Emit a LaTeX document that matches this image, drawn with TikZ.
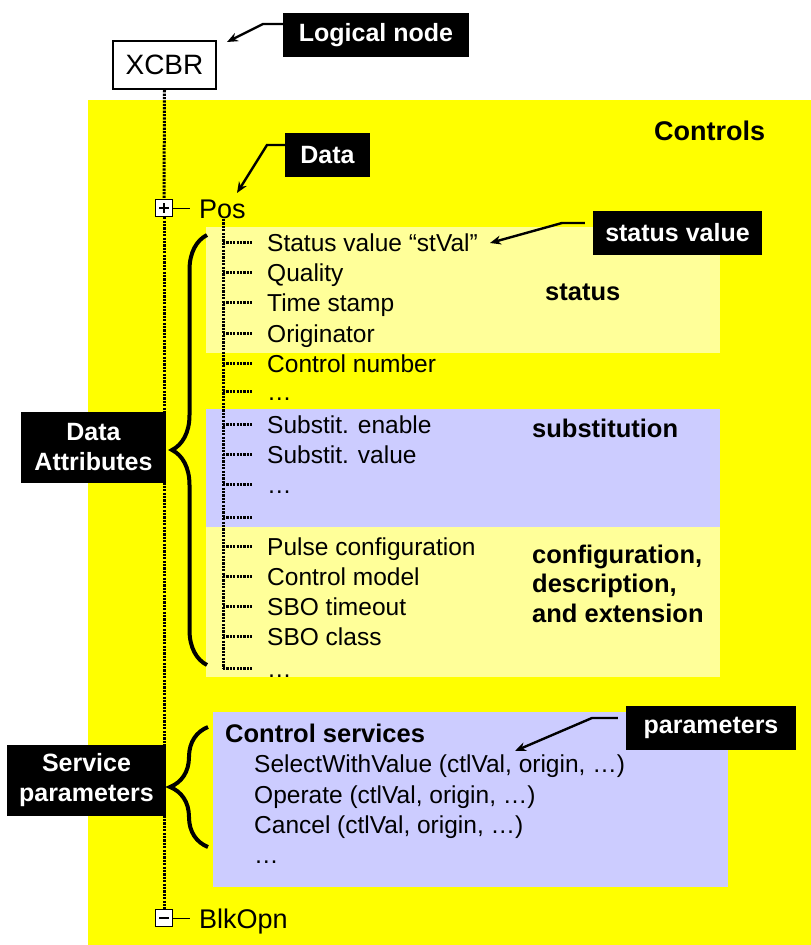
\documentclass[tikz,border=0pt]{standalone}
\usepackage{fontspec}
\setmainfont{Liberation Sans}
\usetikzlibrary{decorations.pathreplacing,arrows.meta}
\newcommand\myfs[1]{\fontsize{#1}{#1}\selectfont}
\definecolor{bgyellow}{RGB}{255,255,0}
\definecolor{paleyellow}{RGB}{255,255,153}
\definecolor{lavendr}{RGB}{204,204,255}
\begin{document}
\begin{tikzpicture}[x=1pt,y=-1pt,
  lbl/.style={fill=black,text=white,font=\fontsize{25}{30}\selectfont\bfseries,inner sep=0pt,align=center},
  item/.style={anchor=base west,inner sep=0pt,font=\myfs{24.5}},
  hdr/.style={anchor=base west,inner sep=0pt,font=\myfs{25.5}\bfseries},
  dotl/.style={line width=3pt,dash pattern=on 2.2pt off 1.2pt},
  arr/.style={line width=2.4pt,-{Stealth[length=11pt,width=9pt]}},
  brc/.style={line width=4pt,decorate,decoration={brace,amplitude=#1}},
  tbox/.style={draw,fill=white,line width=1.2pt,minimum size=17pt,inner sep=0pt},
]
\useasboundingbox (0,0) rectangle (811,945);
% backgrounds
\fill[white] (0,0) rectangle (811,945);
\fill[bgyellow] (88,100) rectangle (811,945);
\fill[paleyellow] (206,227) rectangle (720,353);
\fill[lavendr] (206,409) rectangle (720,527);
\fill[paleyellow] (206,527) rectangle (720,677);
\fill[lavendr] (213,712) rectangle (728,887);

% logical node
\node[draw,line width=2.4pt,minimum width=103pt,minimum height=48pt,inner sep=0pt,font=\myfs{28}] (xcbr) at (164.5,65) {XCBR};

% labels
\node[lbl,minimum width=186pt,minimum height=44pt] (lnode) at (376,35) {Logical node};
\node[lbl,minimum width=85pt,minimum height=44pt] (ldata) at (327.5,155) {Data};
\node[lbl,minimum width=169pt,minimum height=44pt] (lstat) at (677.5,233) {status value};
\node[lbl,minimum width=170pt,minimum height=44pt] (lpar) at (711,728) {parameters};
\node[lbl,minimum width=145pt,minimum height=71pt] (lda) at (93.5,447) {Data\\Attributes};
\node[lbl,minimum width=159pt,minimum height=71pt] (lsp) at (86.5,780) {Service\\parameters};

% headings
\node[hdr,font=\myfs{27}\bfseries] (controls) at (654,140) {Controls};
\node[hdr] (status) at (545,300) {status};
\node[hdr] (subst) at (532,437) {substitution};
\node[hdr] (cfg1) at (532,563) {configuration,};
\node[hdr] (cfg2) at (532,592) {description,};
\node[hdr] (cfg3) at (532,622) {and extension};

% tree boxes
\node[tbox] (posbox) at (164,208) {};
\node[tbox] (blkbox) at (164,918) {};
\draw[dotl] (xcbr.south) -- (posbox.north);
\draw[dotl] (posbox.south) -- (blkbox.north);
\draw[line width=2.2pt] (159,208) -- (169,208) (164,203) -- (164,213);
\draw[line width=2.8pt] (159,918) -- (169,918);
\coordinate (posend) at (190,208);
\coordinate (blkend) at (190,918);
\draw[line width=1pt] (posbox.east) -- (posend);
\draw[line width=1pt] (blkbox.east) -- (blkend);
\node[anchor=base west,inner sep=0pt,font=\myfs{27}] (pos) at (199,218) {Pos};
\node[anchor=base west,inner sep=0pt,font=\myfs{27}] (blk) at (199,928) {BlkOpn};

% attribute rows
\coordinate (subtop) at (223,219);
\foreach \i/\y/\t in {1/242/{Status value “stVal”},2/272/Quality,3/302/Time stamp,4/333/Originator,5/363/Control number,6/391/…,7/424/Substit. enable,8/454/Substit. value,9/484/…,10/517/{},11/546/Pulse configuration,12/576/Control model,13/606/SBO timeout,14/636/SBO class,15/668/…}{
  \coordinate (r\i) at (223,\y);
  \coordinate (s\i) at (253,\y);
  \node[item] (t\i) at (267,\y+9.5) {\t};
  \draw[dotl] (r\i) -- (s\i);
}
\draw[dotl] (subtop) -- (r15);

% control services
\node[hdr] (cs) at (225,742) {Control services};
\node[item] (sv1) at (254,772) {SelectWithValue (ctlVal, origin, …)};
\node[item] (sv2) at (254,803) {Operate (ctlVal, origin, …)};
\node[item] (sv3) at (254,833) {Cancel (ctlVal, origin, …)};
\node[item] (sv4) at (254,863) {…};

% braces
\coordinate (b1a) at (207,665);
\coordinate (b1b) at (207,235);
\draw[brc=35pt] (b1a) -- (b1b);
\coordinate (b2a) at (208,847);
\coordinate (b2b) at (208,727);
\draw[brc=38pt] (b2a) -- (b2b);

% arrows
\coordinate (a1) at (263,24);
\coordinate (a1t) at (227,42);
\draw[arr] (lnode.west |- a1) -- (a1) -- (a1t);
\coordinate (a2) at (267,145);
\coordinate (a2t) at (237,193);
\draw[arr] (ldata.west |- a2) -- (a2) -- (a2t);
\coordinate (a3) at (562,223);
\coordinate (a3t) at (490,243);
\draw[arr] ([xshift=-8pt]lstat.west |- a3) -- (a3) -- (a3t);
\coordinate (a4) at (592,718);
\coordinate (a4t) at (515,751);
\draw[arr] ([xshift=-8pt]lpar.west |- a4) -- (a4) -- (a4t);
\end{tikzpicture}
\end{document}
